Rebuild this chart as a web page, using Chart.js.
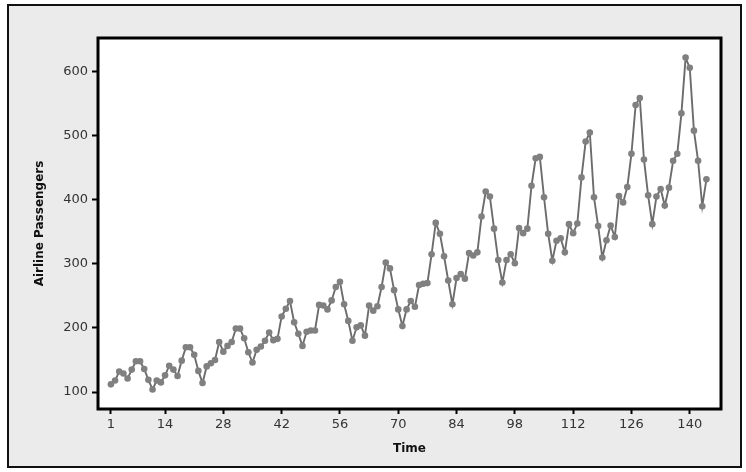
<!DOCTYPE html>
<html>
<head>
<meta charset="utf-8">
<script src="https://cdn.jsdelivr.net/npm/chart.js@4.4.0/dist/chart.umd.min.js"></script>
<style>
  html, body { margin: 0; padding: 0; background: #fff; }
  #wrap { width: 746px; height: 472px; }
</style>
</head>
<body>
<div id="wrap"><canvas id="chart1" width="746" height="472"></canvas></div>
<script>
// monthly airline passengers, 144 observations
const passengers = [
  112, 118, 132, 129, 121, 135, 148, 148, 136, 119, 104, 118,
  115, 126, 141, 135, 125, 149, 170, 170, 158, 133, 114, 140,
  145, 150, 178, 163, 172, 178, 199, 199, 184, 162, 146, 166,
  171, 180, 193, 181, 183, 218, 230, 242, 209, 191, 172, 194,
  196, 196, 236, 235, 229, 243, 264, 272, 237, 211, 180, 201,
  204, 188, 235, 227, 234, 264, 302, 293, 259, 229, 203, 229,
  242, 233, 267, 269, 270, 315, 364, 347, 312, 274, 237, 278,
  284, 277, 317, 313, 318, 374, 413, 405, 355, 306, 271, 306,
  315, 301, 356, 348, 355, 422, 465, 467, 404, 347, 305, 336,
  340, 318, 362, 348, 363, 435, 491, 505, 404, 359, 310, 337,
  360, 342, 406, 396, 420, 472, 548, 559, 463, 407, 362, 405,
  417, 391, 419, 461, 472, 535, 622, 606, 508, 461, 390, 432
];
const timeIdx = passengers.map((v, i) => i + 1);
const xTicks = [1, 14, 28, 42, 56, 70, 84, 98, 112, 126, 140];
const yTicks = [100, 200, 300, 400, 500, 600];

let pts = [];
for (let i = 0; i < passengers.length; i++) {
  pts.push({x: timeIdx[i], y: passengers[i]});
}

const framePlugin = {
  id: 'frame',
  beforeDraw(chart) {
    const c = chart.ctx;
    const a = chart.chartArea;
    c.save();
    c.fillStyle = '#fff';
    c.fillRect(0, 0, chart.width, chart.height);
    c.fillStyle = '#ebebeb';
    c.fillRect(8, 5, 733, 462);
    c.strokeStyle = '#111';
    c.lineWidth = 2;
    c.strokeRect(8, 5, 733, 462);
    c.fillStyle = '#fff';
    c.fillRect(a.left, a.top, a.right - a.left, a.bottom - a.top);
    c.restore();
  },
  afterDraw(chart) {
    const c = chart.ctx;
    const a = chart.chartArea;
    c.save();
    c.strokeStyle = '#000';
    c.lineWidth = 3;
    c.strokeRect(a.left, a.top, a.right - a.left, a.bottom - a.top);
    c.restore();
  }
};

const ctx1 = document.getElementById('chart1').getContext('2d');
const chart1 = new Chart(ctx1, {
  type: 'line',
  data: {
    datasets: [{
      data: pts,
      borderColor: '#6c6c6c',
      backgroundColor: '#808080',
      borderWidth: 1.9,
      pointRadius: 3.3,
      pointBorderWidth: 0,
      pointBackgroundColor: '#808080',
      tension: 0
    }]
  },
  plugins: [framePlugin],
  options: {
    responsive: false,
    animation: false,
    layout: { padding: { left: 29, top: 38, right: 25, bottom: 12 } },
    plugins: {
      legend: { display: false },
      tooltip: { enabled: false }
    },
    scales: {
      x: {
        type: 'linear',
        min: -2.1,
        max: 147.5,
        afterBuildTicks: (s) => { s.ticks = xTicks.map(v => ({value: v})); },
        afterFit: (s) => { s.height = 51; },
        grid: { drawOnChartArea: false, tickLength: 5, tickColor: '#000', tickWidth: 2 },
        border: { display: false },
        ticks: {
          maxRotation: 0,
          autoSkip: false,
          padding: 3,
          color: '#333',
          font: { family: 'DejaVu Sans', size: 13 }
        },
        title: {
          display: true,
          text: 'Time',
          color: '#111',
          padding: { top: 2, bottom: 4 },
          font: { family: 'DejaVu Sans', size: 12, weight: 'bold' }
        }
      },
      y: {
        min: 73.5,
        max: 652.6,
        afterBuildTicks: (s) => { s.ticks = yTicks.map(v => ({value: v})); },
        afterFit: (s) => { s.width = 69; },
        grid: { drawOnChartArea: false, tickLength: 6, tickColor: '#000', tickWidth: 2 },
        border: { display: false },
        ticks: {
          padding: 4,
          color: '#333',
          font: { family: 'DejaVu Sans', size: 13 }
        },
        title: {
          display: true,
          text: 'Airline Passengers',
          color: '#111',
          padding: { top: 4, bottom: 4 },
          font: { family: 'DejaVu Sans', size: 12, weight: 'bold' }
        }
      }
    }
  }
});
</script>
</body>
</html>
